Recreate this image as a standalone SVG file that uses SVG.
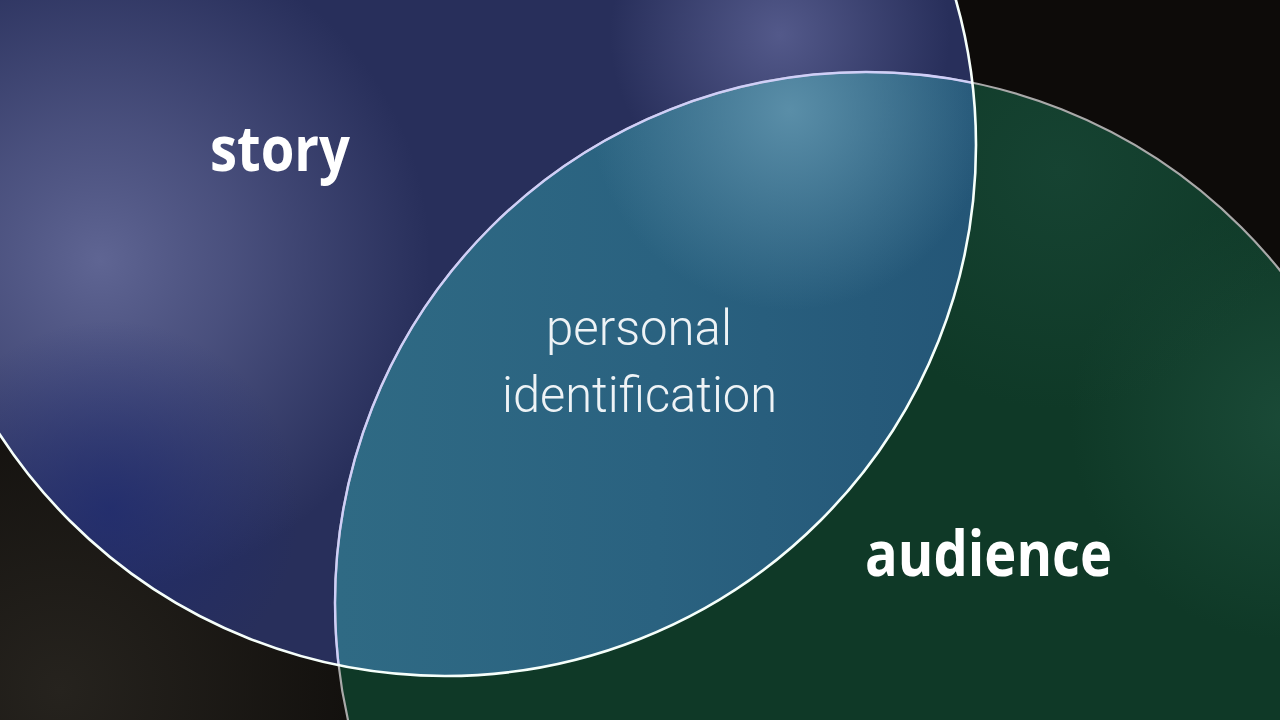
<svg xmlns="http://www.w3.org/2000/svg" width="1280" height="720" viewBox="0 0 1280 720">
  <defs>
    <style>
      .lbl { fill: #ffffff; font-family: "Open Sans", "Liberation Sans", sans-serif; font-weight: 700; font-size: 62px; }
      .mid { fill: #eef3f6; font-family: Roboto, "Open Sans", "Liberation Sans", sans-serif; font-weight: 300; font-size: 50px; }
    </style>
    <clipPath id="clipBlue"><circle cx="445" cy="145" r="531"/></clipPath>
    <clipPath id="clipGreen"><circle cx="866" cy="603" r="531"/></clipPath>
    <radialGradient id="bgGlow" gradientUnits="userSpaceOnUse" cx="60" cy="690" r="380">
      <stop offset="0" stop-color="#26231e"/>
      <stop offset="1" stop-color="#26231e" stop-opacity="0"/>
    </radialGradient>
    <radialGradient id="bGlow1" gradientUnits="userSpaceOnUse" cx="100" cy="260" r="330">
      <stop offset="0" stop-color="#5f6593"/>
      <stop offset="0.4" stop-color="#555b89" stop-opacity="0.75"/>
      <stop offset="1" stop-color="#555b89" stop-opacity="0"/>
    </radialGradient>
    <radialGradient id="bGlow2" gradientUnits="userSpaceOnUse" cx="780" cy="35" r="170">
      <stop offset="0" stop-color="#53598a"/>
      <stop offset="1" stop-color="#53598a" stop-opacity="0"/>
    </radialGradient>
    <radialGradient id="bDeep" gradientUnits="userSpaceOnUse" cx="110" cy="510" r="190">
      <stop offset="0" stop-color="#1e2a6e" stop-opacity="0.75"/>
      <stop offset="1" stop-color="#1e2a6e" stop-opacity="0"/>
    </radialGradient>
    <linearGradient id="oBase" gradientUnits="userSpaceOnUse" x1="340" y1="0" x2="975" y2="0">
      <stop offset="0" stop-color="#2f6a84"/>
      <stop offset="0.5" stop-color="#2a6280"/>
      <stop offset="1" stop-color="#245677"/>
    </linearGradient>
    <radialGradient id="oGlow" gradientUnits="userSpaceOnUse" cx="790" cy="110" r="200">
      <stop offset="0" stop-color="#5a8ea8"/>
      <stop offset="1" stop-color="#5a8ea8" stop-opacity="0"/>
    </radialGradient>
    <radialGradient id="gGlow" gradientUnits="userSpaceOnUse" cx="1290" cy="420" r="220">
      <stop offset="0" stop-color="#1a4a37"/>
      <stop offset="1" stop-color="#1a4a37" stop-opacity="0"/>
    </radialGradient>
    <radialGradient id="gTop" gradientUnits="userSpaceOnUse" cx="1060" cy="170" r="240">
      <stop offset="0" stop-color="#164332"/>
      <stop offset="1" stop-color="#164332" stop-opacity="0"/>
    </radialGradient>
  </defs>

  <g id="background">
    <rect x="0" y="0" width="1280" height="720" fill="#0d0b09"/>
    <rect x="0" y="0" width="1280" height="720" fill="url(#bgGlow)"/>
  </g>

  <g id="story-circle">
    <circle cx="445" cy="145" r="531" fill="#282f5b"/>
    <g clip-path="url(#clipBlue)">
      <rect x="0" y="0" width="1280" height="720" fill="url(#bGlow1)"/>
      <rect x="0" y="0" width="1280" height="720" fill="url(#bGlow2)"/>
      <rect x="0" y="0" width="1280" height="720" fill="url(#bDeep)"/>
    </g>
  </g>

  <g id="audience-circle">
    <circle cx="866" cy="603" r="531" fill="#0f3927"/>
    <g clip-path="url(#clipGreen)">
      <rect x="0" y="0" width="1280" height="720" fill="url(#gGlow)"/>
      <rect x="0" y="0" width="1280" height="720" fill="url(#gTop)"/>
    </g>
  </g>

  <g id="overlap">
    <g clip-path="url(#clipBlue)">
      <circle cx="866" cy="603" r="531" fill="url(#oBase)"/>
      <g clip-path="url(#clipGreen)">
        <rect x="0" y="0" width="1280" height="720" fill="url(#oGlow)"/>
      </g>
    </g>
  </g>

  <g id="outlines">
    <circle cx="866" cy="603" r="531" fill="none" stroke="#a9a9a9" stroke-width="2.2"/>
    <circle cx="866" cy="603" r="531" fill="none" stroke="#cfcff8" stroke-width="2.4" clip-path="url(#clipBlue)"/>
    <circle cx="445" cy="145" r="531" fill="none" stroke="#f6fffb" stroke-width="2.6"/>
  </g>

  <g id="labels">
    <text class="lbl" x="210" y="171" textLength="140" lengthAdjust="spacingAndGlyphs">story</text>
    <text class="lbl" x="865" y="576" textLength="247" lengthAdjust="spacingAndGlyphs">audience</text>
    <text class="mid" x="546" y="345" textLength="186" lengthAdjust="spacingAndGlyphs">personal</text>
    <text class="mid" x="502" y="412" textLength="275" lengthAdjust="spacingAndGlyphs">identification</text>
  </g>
</svg>
